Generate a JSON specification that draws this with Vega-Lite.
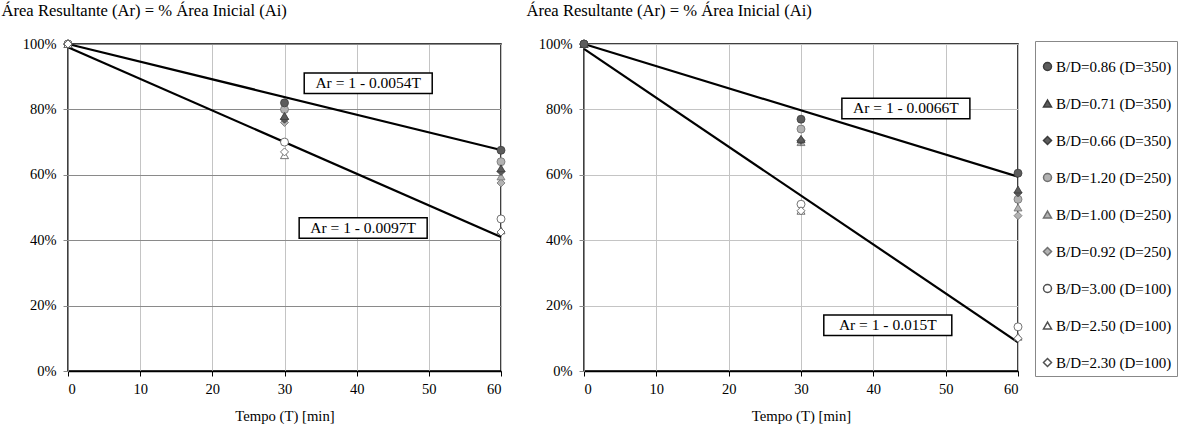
{
  "$schema": "https://vega.github.io/schema/vega-lite/v6.json",
  "padding": {"left": 0, "top": 1, "right": 0, "bottom": 0},
  "spacing": 17,
  "config": {
    "font": "Liberation Serif",
    "view": {"stroke": "black", "strokeWidth": 1.5},
    "legend": {"orient": "none", "legendX": 967, "legendY": -3}
  },
  "datasets": {
    "ptsL": [
      {"T": 0, "A": 1.0, "serie": "B/D=0.86 (D=350)"},
      {"T": 0, "A": 1.0, "serie": "B/D=0.71 (D=350)"},
      {"T": 0, "A": 1.0, "serie": "B/D=0.66 (D=350)"},
      {"T": 0, "A": 1.0, "serie": "B/D=1.20 (D=250)"},
      {"T": 0, "A": 1.0, "serie": "B/D=1.00 (D=250)"},
      {"T": 0, "A": 1.0, "serie": "B/D=0.92 (D=250)"},
      {"T": 0, "A": 1.0, "serie": "B/D=3.00 (D=100)"},
      {"T": 0, "A": 1.0, "serie": "B/D=2.50 (D=100)"},
      {"T": 0, "A": 1.0, "serie": "B/D=2.30 (D=100)"},
      {"T": 30, "A": 0.70, "serie": "B/D=3.00 (D=100)"},
      {"T": 30, "A": 0.66, "serie": "B/D=2.50 (D=100)"},
      {"T": 30, "A": 0.67, "serie": "B/D=2.30 (D=100)"},
      {"T": 30, "A": 0.76, "serie": "B/D=0.92 (D=250)"},
      {"T": 30, "A": 0.78, "serie": "B/D=1.00 (D=250)"},
      {"T": 30, "A": 0.80, "serie": "B/D=1.20 (D=250)"},
      {"T": 30, "A": 0.77, "serie": "B/D=0.66 (D=350)"},
      {"T": 30, "A": 0.78, "serie": "B/D=0.71 (D=350)"},
      {"T": 30, "A": 0.82, "serie": "B/D=0.86 (D=350)"},
      {"T": 60, "A": 0.465, "serie": "B/D=3.00 (D=100)"},
      {"T": 60, "A": 0.43, "serie": "B/D=2.50 (D=100)"},
      {"T": 60, "A": 0.425, "serie": "B/D=2.30 (D=100)"},
      {"T": 60, "A": 0.575, "serie": "B/D=0.92 (D=250)"},
      {"T": 60, "A": 0.595, "serie": "B/D=1.00 (D=250)"},
      {"T": 60, "A": 0.64, "serie": "B/D=1.20 (D=250)"},
      {"T": 60, "A": 0.61, "serie": "B/D=0.66 (D=350)"},
      {"T": 60, "A": 0.62, "serie": "B/D=0.71 (D=350)"},
      {"T": 60, "A": 0.675, "serie": "B/D=0.86 (D=350)"}
    ],
    "ptsR": [
      {"T": 0, "A": 1.0, "serie": "B/D=3.00 (D=100)"},
      {"T": 0, "A": 1.0, "serie": "B/D=2.50 (D=100)"},
      {"T": 0, "A": 1.0, "serie": "B/D=2.30 (D=100)"},
      {"T": 0, "A": 1.0, "serie": "B/D=0.92 (D=250)"},
      {"T": 0, "A": 1.0, "serie": "B/D=1.00 (D=250)"},
      {"T": 0, "A": 1.0, "serie": "B/D=1.20 (D=250)"},
      {"T": 0, "A": 1.0, "serie": "B/D=0.66 (D=350)"},
      {"T": 0, "A": 1.0, "serie": "B/D=0.71 (D=350)"},
      {"T": 0, "A": 1.0, "serie": "B/D=0.86 (D=350)"},
      {"T": 30, "A": 0.51, "serie": "B/D=3.00 (D=100)"},
      {"T": 30, "A": 0.49, "serie": "B/D=2.50 (D=100)"},
      {"T": 30, "A": 0.49, "serie": "B/D=2.30 (D=100)"},
      {"T": 30, "A": 0.70, "serie": "B/D=0.92 (D=250)"},
      {"T": 30, "A": 0.70, "serie": "B/D=1.00 (D=250)"},
      {"T": 30, "A": 0.74, "serie": "B/D=1.20 (D=250)"},
      {"T": 30, "A": 0.705, "serie": "B/D=0.66 (D=350)"},
      {"T": 30, "A": 0.71, "serie": "B/D=0.71 (D=350)"},
      {"T": 30, "A": 0.77, "serie": "B/D=0.86 (D=350)"},
      {"T": 60, "A": 0.135, "serie": "B/D=3.00 (D=100)"},
      {"T": 60, "A": 0.105, "serie": "B/D=2.50 (D=100)"},
      {"T": 60, "A": 0.10, "serie": "B/D=2.30 (D=100)"},
      {"T": 60, "A": 0.475, "serie": "B/D=0.92 (D=250)"},
      {"T": 60, "A": 0.50, "serie": "B/D=1.00 (D=250)"},
      {"T": 60, "A": 0.525, "serie": "B/D=1.20 (D=250)"},
      {"T": 60, "A": 0.545, "serie": "B/D=0.66 (D=350)"},
      {"T": 60, "A": 0.555, "serie": "B/D=0.71 (D=350)"},
      {"T": 60, "A": 0.605, "serie": "B/D=0.86 (D=350)"}
    ],
    "linL": [
      {"line": "a", "T": 0, "A": 1.0},
      {"line": "a", "T": 60, "A": 0.676},
      {"line": "b", "T": 0, "A": 0.99},
      {"line": "b", "T": 60, "A": 0.41}
    ],
    "linR": [
      {"line": "a", "T": 0, "A": 1.0},
      {"line": "a", "T": 60, "A": 0.594},
      {"line": "b", "T": 0, "A": 0.985},
      {"line": "b", "T": 60, "A": 0.088}
    ],
    "labL": [
      {"T": 41.6, "A": 0.88, "eq": "Ar = 1 - 0.0054T"},
      {"T": 40.9, "A": 0.437, "eq": "Ar = 1 - 0.0097T"}
    ],
    "labR": [
      {"T": 44.5, "A": 0.803, "eq": "Ar = 1 - 0.0066T"},
      {"T": 42.0, "A": 0.14, "eq": "Ar = 1 - 0.015T"}
    ]
  },
  "hconcat": [
    {
      "width": 433,
      "height": 327,
      "layer": [
        {
          "data": {"name": "linL"},
          "mark": {"type": "line", "color": "black", "strokeWidth": 2.2},
          "encoding": {
            "x": {"field": "T", "type": "quantitative", "scale": {"domain": [0, 60]},
              "axis": {"title": "Tempo (T) [min]", "values": [0, 10, 20, 30, 40, 50, 60], "grid": true, "gridColor": "#c4c4c4", "domainColor": "black", "domainWidth": 1.5, "tickColor": "black", "tickSize": 5, "titlePadding": 13, "labelPadding": 6,
                "labelFont": "Liberation Serif", "labelFontSize": 14.5, "labelColor": "black", "titleFont": "Liberation Serif", "titleFontSize": 14.7, "titleFontWeight": "normal", "titleColor": "black"}},
            "y": {"field": "A", "type": "quantitative", "scale": {"domain": [0, 1]},
              "axis": {"title": "Área Resultante (Ar) = % Área Inicial (Ai)", "titleAngle": 0, "titleX": -67, "titleY": -29, "titleAlign": "left", "titleBaseline": "alphabetic", "format": ".0%", "values": [0, 0.2, 0.4, 0.6, 0.8, 1], "grid": true, "gridColor": "#8a8a8a", "domainColor": "#8a8a8a", "tickColor": "#8a8a8a", "tickSize": 5, "labelPadding": 7,
                "labelFont": "Liberation Serif", "labelFontSize": 14.5, "labelColor": "black", "titleFont": "Liberation Serif", "titleFontSize": 16.6, "titleFontWeight": "normal", "titleColor": "black"}},
            "detail": {"field": "line"}
          }
        },
        {
          "data": {"name": "ptsL"},
          "mark": {"type": "point", "filled": true, "strokeWidth": 0.8, "size": 64, "opacity": 1},
          "encoding": {
            "x": {"field": "T", "type": "quantitative"},
            "y": {"field": "A", "type": "quantitative"},
            "shape": {"field": "serie", "type": "nominal",
              "legend": {"title": " ", "titleFontSize": 13, "titlePadding": 0, "padding": 5, "strokeColor": "#888888",
                "labelFont": "Liberation Serif", "labelFontSize": 15, "labelColor": "black", "symbolSize": 64, "rowPadding": 21, "labelOffset": 1, "symbolOffset": 0},
              "scale": {"domain": ["B/D=0.86 (D=350)", "B/D=0.71 (D=350)", "B/D=0.66 (D=350)", "B/D=1.20 (D=250)", "B/D=1.00 (D=250)", "B/D=0.92 (D=250)", "B/D=3.00 (D=100)", "B/D=2.50 (D=100)", "B/D=2.30 (D=100)"],
                "range": ["circle", "triangle-up", "diamond", "circle", "triangle-up", "diamond", "circle", "triangle-up", "diamond"]}},
            "fill": {"field": "serie", "type": "nominal",
              "legend": {"title": " ", "titleFontSize": 13, "titlePadding": 0, "padding": 5, "strokeColor": "#888888",
                "labelFont": "Liberation Serif", "labelFontSize": 15, "labelColor": "black", "symbolSize": 64, "rowPadding": 21, "labelOffset": 1, "symbolOffset": 0},
              "scale": {"domain": ["B/D=0.86 (D=350)", "B/D=0.71 (D=350)", "B/D=0.66 (D=350)", "B/D=1.20 (D=250)", "B/D=1.00 (D=250)", "B/D=0.92 (D=250)", "B/D=3.00 (D=100)", "B/D=2.50 (D=100)", "B/D=2.30 (D=100)"],
                "range": ["#5c5c5c", "#5c5c5c", "#5c5c5c", "#b2b2b2", "#b2b2b2", "#b2b2b2", "#ffffff", "#ffffff", "#ffffff"]}},
            "stroke": {"field": "serie", "type": "nominal",
              "legend": {"title": " ", "titleFontSize": 13, "titlePadding": 0, "padding": 5, "strokeColor": "#888888",
                "labelFont": "Liberation Serif", "labelFontSize": 15, "labelColor": "black", "symbolSize": 64, "rowPadding": 21, "labelOffset": 1, "symbolOffset": 0},
              "scale": {"domain": ["B/D=0.86 (D=350)", "B/D=0.71 (D=350)", "B/D=0.66 (D=350)", "B/D=1.20 (D=250)", "B/D=1.00 (D=250)", "B/D=0.92 (D=250)", "B/D=3.00 (D=100)", "B/D=2.50 (D=100)", "B/D=2.30 (D=100)"],
                "range": ["#3c3c3c", "#3c3c3c", "#3c3c3c", "#707070", "#707070", "#707070", "#505050", "#505050", "#505050"]}}
          }
        },
        {
          "data": {"name": "labL"},
          "mark": {"type": "point", "shape": "M-1,-0.16L1,-0.16L1,0.16L-1,0.16Z", "size": 16384, "filled": true, "fill": "white", "stroke": "black", "strokeWidth": 1.5, "opacity": 1},
          "encoding": {
            "x": {"field": "T", "type": "quantitative"},
            "y": {"field": "A", "type": "quantitative"}
          }
        },
        {
          "data": {"name": "labL"},
          "mark": {"type": "text", "fontSize": 15.5, "font": "Liberation Serif", "color": "black", "baseline": "middle", "align": "center"},
          "encoding": {
            "x": {"field": "T", "type": "quantitative"},
            "y": {"field": "A", "type": "quantitative"},
            "text": {"field": "eq"}
          }
        }
      ]
    },
    {
      "width": 434,
      "height": 327,
      "layer": [
        {
          "data": {"name": "linR"},
          "mark": {"type": "line", "color": "black", "strokeWidth": 2.2},
          "encoding": {
            "x": {"field": "T", "type": "quantitative", "scale": {"domain": [0, 60]},
              "axis": {"title": "Tempo (T) [min]", "values": [0, 10, 20, 30, 40, 50, 60], "grid": true, "gridColor": "#c4c4c4", "domainColor": "black", "domainWidth": 1.5, "tickColor": "black", "tickSize": 5, "titlePadding": 13, "labelPadding": 6,
                "labelFont": "Liberation Serif", "labelFontSize": 14.5, "labelColor": "black", "titleFont": "Liberation Serif", "titleFontSize": 14.7, "titleFontWeight": "normal", "titleColor": "black"}},
            "y": {"field": "A", "type": "quantitative", "scale": {"domain": [0, 1]},
              "axis": {"title": "Área Resultante (Ar) = % Área Inicial (Ai)", "titleAngle": 0, "titleX": -58, "titleY": -29, "titleAlign": "left", "titleBaseline": "alphabetic", "format": ".0%", "values": [0, 0.2, 0.4, 0.6, 0.8, 1], "grid": true, "gridColor": "#c4c4c4", "domainColor": "#8a8a8a", "tickColor": "#8a8a8a", "tickSize": 5, "labelPadding": 7,
                "labelFont": "Liberation Serif", "labelFontSize": 14.5, "labelColor": "black", "titleFont": "Liberation Serif", "titleFontSize": 16.6, "titleFontWeight": "normal", "titleColor": "black"}},
            "detail": {"field": "line"}
          }
        },
        {
          "data": {"name": "ptsR"},
          "mark": {"type": "point", "filled": true, "strokeWidth": 0.8, "size": 64, "opacity": 1},
          "encoding": {
            "x": {"field": "T", "type": "quantitative"},
            "y": {"field": "A", "type": "quantitative"},
            "shape": {"field": "serie", "type": "nominal"},
            "fill": {"field": "serie", "type": "nominal"},
            "stroke": {"field": "serie", "type": "nominal"}
          }
        },
        {
          "data": {"name": "labR"},
          "mark": {"type": "point", "shape": "M-1,-0.16L1,-0.16L1,0.16L-1,0.16Z", "size": 16384, "filled": true, "fill": "white", "stroke": "black", "strokeWidth": 1.5, "opacity": 1},
          "encoding": {
            "x": {"field": "T", "type": "quantitative"},
            "y": {"field": "A", "type": "quantitative"}
          }
        },
        {
          "data": {"name": "labR"},
          "mark": {"type": "text", "fontSize": 15.5, "font": "Liberation Serif", "color": "black", "baseline": "middle", "align": "center"},
          "encoding": {
            "x": {"field": "T", "type": "quantitative"},
            "y": {"field": "A", "type": "quantitative"},
            "text": {"field": "eq"}
          }
        }
      ]
    }
  ]
}
